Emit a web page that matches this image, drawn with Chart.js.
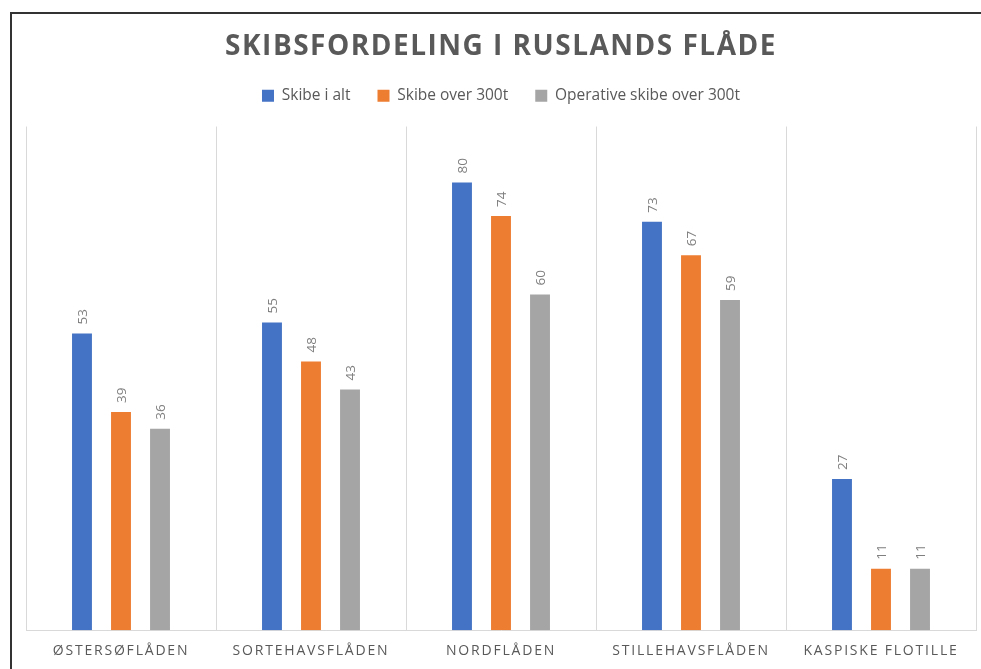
<!DOCTYPE html>
<html>
<head>
<meta charset="utf-8">
<script src="https://cdn.jsdelivr.net/npm/chart.js@4"></script>
<style>
  body { margin: 0; background: #fff; }
  #wrap { position: relative; width: 981px; height: 669px; }
  #frame { position: absolute; left: 10px; top: 12px; right: -5px; bottom: -5px; border-left: 2px solid #333; border-top: 2px solid #333; pointer-events: none; }
</style>
</head>
<body>
<div id="wrap">
  <canvas id="fleetChart" width="981" height="669"></canvas>
  <div id="frame"></div>
</div>
<script>
// Data
const fleets = ['ØSTERSØFLÅDEN', 'SORTEHAVSFLÅDEN', 'NORDFLÅDEN', 'STILLEHAVSFLÅDEN', 'KASPISKE FLOTILLE'];
const shipsTotal = [53, 55, 80, 73, 27];
const shipsOver300 = [39, 48, 74, 67, 11];
const operativeOver300 = [36, 43, 60, 59, 11];
const seriesNames = ['Skibe i alt', 'Skibe over 300t', 'Operative skibe over 300t'];
const seriesColors = ['#4472C4', '#ED7D31', '#A5A5A5'];

const textGray = '#595959';

// Rotated value labels above the bars
const valueLabels = {
    id: 'valueLabels',
    afterDatasetsDraw(chart) {
        const ctx = chart.ctx;
        ctx.save();
        ctx.font = '13.5px "Open Sans"';
        ctx.fillStyle = '#7f7f7f';
        ctx.textAlign = 'left';
        ctx.textBaseline = 'middle';
        chart.data.datasets.forEach((ds, i) => {
            chart.getDatasetMeta(i).data.forEach((bar, j) => {
                ctx.save();
                ctx.translate(bar.x + 1, bar.y - 9);
                ctx.rotate(-Math.PI / 2);
                ctx.fillText(ds.data[j], 0, 0);
                ctx.restore();
            });
        });
        ctx.restore();
    }
};

// Letter spacing for category labels and title, extra room under the legend
const spacedText = {
    id: 'spacedText',
    beforeUpdate(chart) {
        const lg = chart.legend;
        if (lg && !lg._padded) {
            const origFit = lg.fit;
            lg.fit = function () {
                origFit.call(this);
                this.height += 13;
            };
            lg._padded = true;
        }
    },
    beforeDraw(chart) {
        const x = chart.scales.x;
        if (!x._spaced) {
            const orig = x.drawLabels;
            x.drawLabels = function (area) {
                this.ctx.save();
                this.ctx.letterSpacing = '1.8px';
                orig.call(this, area);
                this.ctx.restore();
            };
            x._spaced = true;
        }
        const t = chart.titleBlock;
        if (t && !t._spaced) {
            const origT = t.draw;
            t.draw = function () {
                this.ctx.save();
                this.ctx.letterSpacing = '1.5px';
                origT.call(this);
                this.ctx.restore();
            };
            t._spaced = true;
        }
    }
};

const ctx = document.getElementById('fleetChart').getContext('2d');
new Chart(ctx, {
    type: 'bar',
    data: {
        labels: fleets,
        datasets: [
            { label: seriesNames[0], data: shipsTotal, backgroundColor: seriesColors[0] },
            { label: seriesNames[1], data: shipsOver300, backgroundColor: seriesColors[1] },
            { label: seriesNames[2], data: operativeOver300, backgroundColor: seriesColors[2] }
        ]
    },
    options: {
        responsive: false,
        animation: false,
        categoryPercentage: 0.616,
        barPercentage: 0.51,
        layout: { padding: { left: 26, right: 5, top: 0, bottom: -2 } },
        plugins: {
            title: {
                display: true,
                text: 'SKIBSFORDELING I RUSLANDS FLÅDE',
                color: textGray,
                font: { family: '"Open Sans"', size: 28, weight: 'bold', lineHeight: 1 },
                padding: { top: 33, bottom: 0 }
            },
            legend: {
                labels: {
                    color: textGray,
                    font: { family: '"Open Sans"', size: 15.5 },
                    boxWidth: 12,
                    boxHeight: 12,
                    padding: 27
                }
            },
            tooltip: { enabled: false }
        },
        scales: {
            x: {
                grid: { color: '#d9d9d9', drawTicks: false, offset: true },
                border: { color: '#d9d9d9' },
                ticks: {
                    color: textGray,
                    font: { family: '"Open Sans"', size: 14 },
                    padding: 12,
                    maxRotation: 0
                }
            },
            y: {
                display: false,
                min: 0,
                max: 90
            }
        }
    },
    plugins: [valueLabels, spacedText]
});
</script>
</body>
</html>
